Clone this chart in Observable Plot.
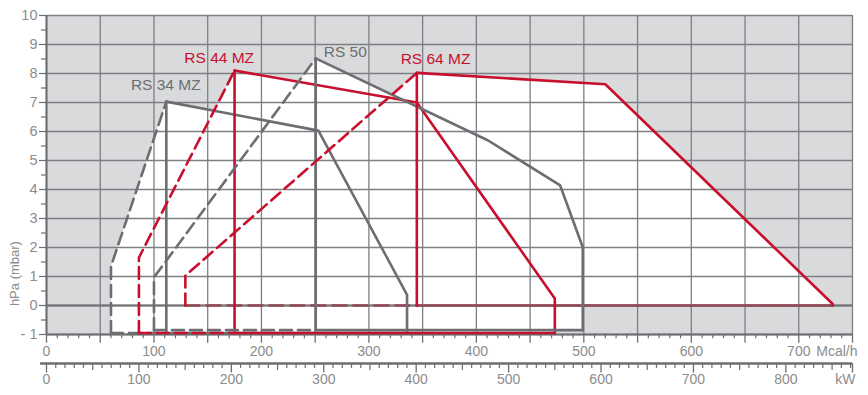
<!DOCTYPE html>
<html>
<head>
<meta charset="utf-8">
<script src="https://cdn.jsdelivr.net/npm/d3@7"></script>
<script src="https://cdn.jsdelivr.net/npm/@observablehq/plot@0.6"></script>
<style>
  html, body { margin: 0; padding: 0; background: #fff; }
  #chart svg { display: block; }
</style>
</head>
<body>
<div id="chart"></div>
<script>
// ---- Data (Mcal/h, hPa) ----
const burners = ["RS 34 MZ", "RS 44 MZ", "RS 50", "RS 64 MZ"];

// RS 34 MZ (gray)
const rs34Dash = [[60, -0.95], [60, 1.35], [111.5, 7.03]];
const rs34Edge = [[111.5, 7.03], [253, 6.03], [335.5, 0.37], [335.5, -0.95]];
const rs34Min  = [[111.5, -0.95], [111.5, 7.03]];
const rs34BaseDash = [[60, -0.95], [111.5, -0.95]];
const rs34Base = [[111.5, -0.95], [335.5, -0.95]];

// RS 50 (gray)
const rs50Dash = [[100, -0.85], [100, 0.97], [250.5, 8.52]];
const rs50Edge = [[250.5, 8.52], [411, 5.69], [478, 4.14], [499, 2.01], [499, -0.85]];
const rs50Min  = [[250.5, -0.85], [250.5, 8.52]];
const rs50BaseDash = [[100, -0.85], [250.5, -0.85]];
const rs50Base = [[250.5, -0.85], [499, -0.85]];

// RS 44 MZ (red)
const rs44Dash = [[86, -0.95], [86, 1.65], [175, 8.1]];
const rs44Edge = [[175, 8.1], [344.6, 7.0], [473, 0.24], [473, -0.95]];
const rs44Min  = [[175, -0.95], [175, 8.1]];
const rs44BaseDash = [[86, -0.95], [175, -0.95]];
const rs44Base = [[175, -0.95], [473, -0.95]];

// RS 64 MZ (red)
const rs64Dash = [[129.2, 0], [129.2, 1.03], [344.6, 8.02]];
const rs64Edge = [[344.6, 8.02], [520, 7.63], [731.6, 0.05], [731.6, 0]];
const rs64Min  = [[344.6, 0], [344.6, 8.02]];
const rs64BaseDash = [[129.2, 0], [344.6, 0]];
const rs64Base = [[344.6, 0], [731.6, 0]];

// label anchor points (Mcal/h, hPa)
const labelX = [111, 160.7, 278, 362];
const labelY = [7.59, 8.55, 8.73, 8.5];

// ticks
const yTicks = [-1, 0, 1, 2, 3, 4, 5, 6, 7, 8, 9, 10];
const yHalfTicks = [-0.5, 0.5, 1.5, 2.5, 3.5, 4.5, 5.5, 6.5, 7.5, 8.5, 9.5];
const mcalLabels = [0, 100, 200, 300, 400, 500, 600, 700];
const mcalFifty = [0, 50, 100, 150, 200, 250, 300, 350, 400, 450, 500, 550, 600, 650, 700, 750];
const kwLabels = [0, 100, 200, 300, 400, 500, 600, 700, 800];
const MCAL_PER_KW = 0.86;
const KW_MAX = 872;

// ---- Styles ----
const GRAY = "#6d6e71";
const RED = "#c8102e";
const GRID = "#7e7f82";
const BG = "#d9dadc";
const TXT = "#8c8c8c";
const LW = 2.6;
const FONT = "'Liberation Sans', Arial, Helvetica, sans-serif";

const poly = (dash, edge) => [...dash, ...edge.slice(1)];
const P = () => ({x: d => d[0], y: d => d[1]});

const mcalMinor = d3.range(0, 751, 10).filter(d => d % 50 !== 0);
const kwMinor = d3.range(0, KW_MAX, 10).filter(d => d % 50 !== 0);
const kwFifty = d3.range(0, KW_MAX, 50).filter(d => d % 100 !== 0);

function lineMarks(color, dash, edge, min, baseDash, base) {
  return [
    Plot.line(baseDash, {...P(), stroke: color, strokeWidth: LW, strokeDasharray: "12,6", strokeLinejoin: "miter"}),
    Plot.line(base, {...P(), stroke: color, strokeWidth: LW}),
    Plot.line(dash, {...P(), stroke: color, strokeWidth: LW, strokeDasharray: "12,6", strokeLinejoin: "miter"}),
    Plot.line(min, {...P(), stroke: color, strokeWidth: LW}),
    Plot.line(edge, {...P(), stroke: color, strokeWidth: LW, strokeLinejoin: "miter"})
  ];
}

const chart = Plot.plot({
  width: 868,
  height: 395,
  marginLeft: 46,
  marginRight: 16,
  marginTop: 15,
  marginBottom: 61,
  x: {domain: [0, 750], label: null, axis: null},
  y: {domain: [-1, 10], label: null},
  style: {fontFamily: FONT, background: "white"},
  marks: [
    Plot.frame({fill: BG, stroke: null}),
    // white operating envelopes
    Plot.line(poly(rs34Dash, rs34Edge), {...P(), fill: "white", stroke: null}),
    Plot.line(poly(rs50Dash, rs50Edge), {...P(), fill: "white", stroke: null}),
    Plot.line(poly(rs44Dash, rs44Edge), {...P(), fill: "white", stroke: null}),
    Plot.line(poly(rs64Dash, rs64Edge), {...P(), fill: "white", stroke: null}),
    // grid
    Plot.ruleX(mcalFifty, {y1: -1, y2: 10, stroke: GRID, strokeWidth: 1.3}),
    Plot.ruleY(yTicks, {x1: 0, x2: 750, stroke: GRID, strokeWidth: 1.3}),
    Plot.ruleX([0], {y1: -1, y2: 10, stroke: GRAY, strokeWidth: 2}),
    Plot.ruleY([-1], {x1: 0, x2: 750, stroke: GRAY, strokeWidth: 2}),
    // RS 64 MZ base on zero line (blended)
    Plot.line(rs64BaseDash, {...P(), stroke: RED, strokeWidth: LW, strokeDasharray: "14,7"}),
    Plot.line(rs64Base, {...P(), stroke: RED, strokeWidth: LW}),
    Plot.ruleY([0], {x1: 0, x2: 750, stroke: GRAY, strokeWidth: 2.4, strokeOpacity: 0.7}),
    // burners
    ...lineMarks(GRAY, rs34Dash, rs34Edge, rs34Min, rs34BaseDash, rs34Base),
    ...lineMarks(RED, rs44Dash, rs44Edge, rs44Min, rs44BaseDash, rs44Base),
    ...lineMarks(GRAY, rs50Dash, rs50Edge, rs50Min, rs50BaseDash, rs50Base),
    Plot.line(rs64Dash, {...P(), stroke: RED, strokeWidth: LW, strokeDasharray: "12,6", strokeLinejoin: "miter"}),
    Plot.line(rs64Min, {...P(), stroke: RED, strokeWidth: LW}),
    Plot.line(rs64Edge, {...P(), stroke: RED, strokeWidth: LW, strokeLinejoin: "miter"}),
    // series labels
    Plot.text(burners, {
      x: (d, i) => labelX[i], y: (d, i) => labelY[i], text: d => d,
      fill: (d, i) => (i % 2 === 0 ? GRAY : RED),
      fontSize: 15.5, textAnchor: "middle"
    }),
    // y axis
    Plot.axisY(yTicks, {
      anchor: "left", tickSize: 7, tickPadding: 2, label: null,
      tickFormat: d => (d === -1 ? "- 1" : String(d)),
      fontSize: 14.5, color: TXT, stroke: GRAY, strokeWidth: 1.2
    }),
    Plot.axisY(yHalfTicks, {
      anchor: "left", tickSize: 5, label: null, tickFormat: () => "",
      stroke: GRAY, strokeWidth: 1.2
    }),
    Plot.text(["hPa (mbar)"], {
      frameAnchor: "left", dx: -32, y: 1.1, rotate: -90, text: d => d,
      fontSize: 13, fill: TXT, textAnchor: "middle"
    }),
    // Mcal/h axis
    Plot.ruleX(mcalFifty, {y1: -1, y2: -1.3, stroke: GRAY, strokeWidth: 1.3}),
    Plot.ruleX(mcalMinor, {y1: -1, y2: -1.15, stroke: GRAY, strokeWidth: 1.2}),
    Plot.text(mcalLabels, {x: d => d, y: -1.57, text: d => String(d), fontSize: 14, fill: TXT}),
    Plot.text(["Mcal/h"], {x: 750, y: -1.57, text: d => d, textAnchor: "end", dx: 5, fontSize: 14, fill: TXT}),
    // kW axis
    Plot.ruleY([-2.0], {x1: -5.5, x2: 750, stroke: GRAY, strokeWidth: 2.6}),
    Plot.ruleX(kwLabels, {x: d => d * MCAL_PER_KW, y1: -2.0, y2: -2.33, stroke: GRAY, strokeWidth: 1.3}),
    Plot.ruleX(kwFifty, {x: d => d * MCAL_PER_KW, y1: -2.0, y2: -2.24, stroke: GRAY, strokeWidth: 1.2}),
    Plot.ruleX(kwMinor, {x: d => d * MCAL_PER_KW, y1: -2.0, y2: -2.17, stroke: GRAY, strokeWidth: 1.2}),
    Plot.ruleX([750], {y1: -2.0, y2: -2.33, stroke: GRAY, strokeWidth: 1.3}),
    Plot.text(kwLabels, {x: d => d * MCAL_PER_KW, y: -2.55, text: d => String(d), fontSize: 14, fill: TXT}),
    Plot.text(["kW"], {x: 750, y: -2.55, text: d => d, textAnchor: "end", dx: 3, fontSize: 14, fill: TXT})
  ]
});
document.getElementById("chart").appendChild(chart);
</script>
</body>
</html>
